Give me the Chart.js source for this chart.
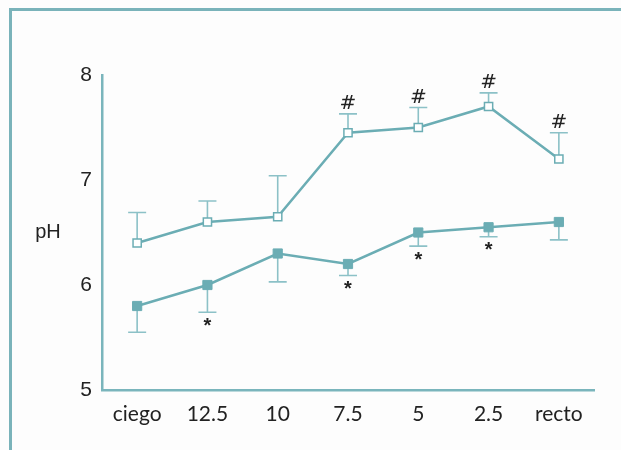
<!DOCTYPE html>
<html>
<head>
<meta charset="utf-8">
<script src="https://cdn.jsdelivr.net/npm/chart.js@4.4.1/dist/chart.umd.min.js"></script>
<style>
  html, body { margin: 0; padding: 0; background: #fdfdfd; }
  #wrap { position: relative; width: 621px; height: 450px; overflow: hidden; }
  #frame { position: absolute; left: 9px; top: 8px; width: 640px; height: 460px;
           border-top: 3px solid #7ab3ba; border-left: 3px solid #7ab3ba; box-sizing: border-box; }
  canvas { position: absolute; left: 0; top: 0; }
</style>
</head>
<body>
<div id="wrap">
  <div id="frame"></div>
  <canvas id="c" width="621" height="450"></canvas>
</div>
<script>
// Segment positions along the colon
const categories = ['ciego', '12.5', '10', '7.5', '5', '2.5', 'recto'];

// Upper series (open squares): mean pH and upward error
const openMeans = [6.4, 6.6, 6.65, 7.45, 7.5, 7.7, 7.2];
const openErr   = [0.29, 0.2, 0.39, 0.18, 0.19, 0.13, 0.25];
const openMarks = ['', '', '', '#', '#', '#', '#'];

// Lower series (filled squares): mean pH and downward error
const filledMeans = [5.8, 6.0, 6.3, 6.2, 6.5, 6.55, 6.6];
const filledErr   = [0.25, 0.26, 0.27, 0.11, 0.13, 0.09, 0.17];
const filledMarks = ['', '*', '', '*', '*', '*', ''];

// Y axis range and ticks
const yTicks = [5, 6, 7, 8];

const LINE = '#6badb4';
const BAR = '#8cc1c7';
const AXIS = '#7ab5bc';

const errorBars = {
  id: 'errorBars',
  beforeDatasetsDraw(chart) {
    const { ctx } = chart;
    const x = chart.scales.x, y = chart.scales.y;
    const cap = 9;
    ctx.save();
    ctx.strokeStyle = BAR;
    ctx.lineWidth = 1.6;
    const draw = (means, errs, dir) => {
      means.forEach((m, i) => {
        const px = x.getPixelForValue(i);
        const p0 = y.getPixelForValue(m);
        const p1 = y.getPixelForValue(m + dir * errs[i]);
        ctx.beginPath();
        ctx.moveTo(px, p0); ctx.lineTo(px, p1);
        ctx.moveTo(px - cap, p1); ctx.lineTo(px + cap, p1);
        ctx.stroke();
      });
    };
    draw(openMeans, openErr, 1);
    draw(filledMeans, filledErr, -1);
    ctx.restore();
  },
  afterDatasetsDraw(chart) {
    const { ctx, chartArea } = chart;
    const x = chart.scales.x, y = chart.scales.y;
    ctx.save();
    ctx.fillStyle = '#222';
    ctx.textAlign = 'center';
    ctx.font = 'italic 20px "DejaVu Sans", sans-serif';
    ctx.textBaseline = 'alphabetic';
    openMarks.forEach((t, i) => {
      if (!t) return;
      const px = x.getPixelForValue(i);
      const py = y.getPixelForValue(openMeans[i] + openErr[i]);
      ctx.fillText(t, px, py - 5);
    });
    ctx.font = 'bold 20px "Liberation Sans", sans-serif';
    ctx.textBaseline = 'top';
    filledMarks.forEach((t, i) => {
      if (!t) return;
      const px = x.getPixelForValue(i);
      const py = y.getPixelForValue(filledMeans[i] - filledErr[i]);
      ctx.fillText(t, px, py + 4);
    });
    // y axis label
    ctx.fillStyle = '#222';
    ctx.font = '20px "Liberation Sans", Arial, sans-serif';
    ctx.textAlign = 'center';
    ctx.textBaseline = 'middle';
    ctx.fillText('pH', chartArea.left - 54, (chartArea.top + chartArea.bottom) / 2);
    ctx.restore();
  }
};

new Chart(document.getElementById('c'), {
  type: 'line',
  data: {
    labels: categories,
    datasets: [
      {
        data: openMeans,
        borderColor: LINE,
        borderWidth: 2.5,
        pointStyle: 'rect',
        pointRadius: 5.8,
        pointBorderWidth: 1.5,
        pointBackgroundColor: '#ffffff',
        pointBorderColor: LINE,
        tension: 0
      },
      {
        data: filledMeans,
        borderColor: LINE,
        borderWidth: 2.5,
        pointStyle: 'rect',
        pointRadius: 6.5,
        pointBorderWidth: 1,
        pointBackgroundColor: LINE,
        pointBorderColor: LINE,
        tension: 0
      }
    ]
  },
  options: {
    responsive: false,
    animation: false,
    layout: { padding: { top: 75, right: 27, left: 0, bottom: 0 } },
    plugins: { legend: { display: false }, tooltip: { enabled: false } },
    scales: {
      x: {
        offset: true,
        grid: { display: false, drawTicks: false },
        border: { display: true, color: AXIS, width: 2.5 },
        ticks: {
          color: '#222',
          padding: 12,
          font: { family: 'Lato, "Open Sans", sans-serif', size: 21 },
          maxRotation: 0,
          autoSkip: false
        },
        afterFit(scale) { scale.height = 60; }
      },
      y: {
        min: yTicks[0],
        max: yTicks[yTicks.length - 1],
        afterBuildTicks(scale) { scale.ticks = yTicks.map(v => ({ value: v })); },
        grid: { display: false, drawTicks: false },
        border: { display: true, color: AXIS, width: 2.5 },
        ticks: {
          color: '#222',
          padding: 10,
          font: { family: '"Liberation Sans", Arial, sans-serif', size: 21 }
        },
        afterFit(scale) { scale.width = 102; }
      }
    }
  },
  plugins: [errorBars]
});
</script>
</body>
</html>
